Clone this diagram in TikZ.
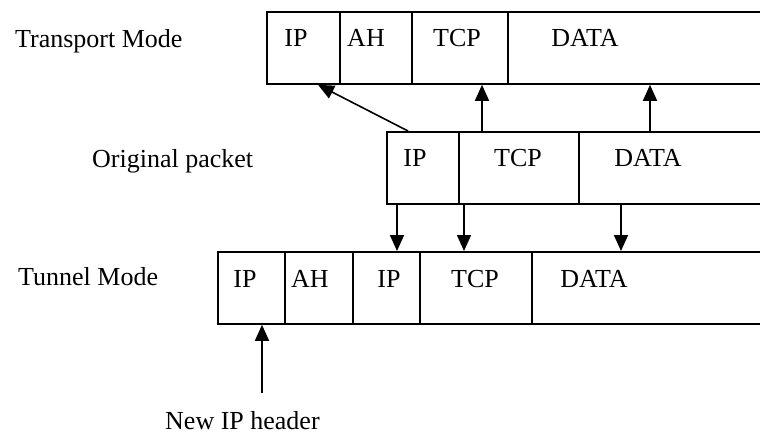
\documentclass[tikz,border=0pt]{standalone}
\usepackage{fontspec}
\setmainfont{Liberation Serif}
\usetikzlibrary{arrows.meta, positioning}

\begin{document}
\begin{tikzpicture}[
    x=1pt, y=-1pt,
    fieldbox/.style={rectangle, draw=black, line width=1.8pt, minimum height=72pt, inner sep=0pt, anchor=north west},
    fieldtext/.style={anchor=base, inner sep=0pt, font=\fontsize{26}{30}\selectfont},
    rowlabel/.style={anchor=base west, inner sep=0pt, font=\fontsize{26}{30}\selectfont},
    mapedge/.style={-{Triangle[length=16pt, width=14pt]}, line width=1.6pt}
  ]

  \path[use as bounding box, clip] (0,0) rectangle (760,434);

  % Row labels
  \node[rowlabel] (transport) at (15,47) {Transport Mode};
  \node[rowlabel] (original) at (92,167) {Original packet};
  \node[rowlabel] (tunnel) at (18,285) {Tunnel Mode};
  \node[rowlabel] (newhdr) at (165,429) {New IP header};

  % Transport mode packet
  \node[fieldbox, minimum width=73pt] (tip) at (266,11) {};
  \node[fieldbox, minimum width=72pt] (tah) at (339,11) {};
  \node[fieldbox, minimum width=96pt] (ttcp) at (411,11) {};
  \node[fieldbox, minimum width=273pt] (tdata) at (507,11) {};
  \node[fieldtext] (tiptxt) at (296,46) {IP};
  \node[fieldtext] (tahtxt) at (366,46) {AH};
  \node[fieldtext] (ttcptxt) at (457,46) {TCP};
  \node[fieldtext] (tdatatxt) at (585,46) {DATA};

  % Original packet
  \node[fieldbox, minimum width=72pt] (oip) at (386,131) {};
  \node[fieldbox, minimum width=120pt] (otcp) at (458,131) {};
  \node[fieldbox, minimum width=202pt] (odata) at (578,131) {};
  \node[fieldtext] (oiptxt) at (415,166) {IP};
  \node[fieldtext] (otcptxt) at (518,166) {TCP};
  \node[fieldtext] (odatatxt) at (648,166) {DATA};

  % Tunnel mode packet
  \node[fieldbox, minimum width=67pt] (nip) at (217,251) {};
  \node[fieldbox, minimum width=68pt] (nah) at (284,251) {};
  \node[fieldbox, minimum width=67pt] (nip2) at (352,251) {};
  \node[fieldbox, minimum width=112pt] (ntcp) at (419,251) {};
  \node[fieldbox, minimum width=249pt] (ndata) at (531,251) {};
  \node[fieldtext] (niptxt) at (245,287) {IP};
  \node[fieldtext] (nahtxt) at (310,287) {AH};
  \node[fieldtext] (nip2txt) at (389,287) {IP};
  \node[fieldtext] (ntcptxt) at (475,287) {TCP};
  \node[fieldtext] (ndatatxt) at (594,287) {DATA};

  % Original -> transport
  \draw[mapedge] ([xshift=22pt]oip.north west) -- ([xshift=52pt]tip.south west);
  \draw[mapedge] ([xshift=24pt]otcp.north west) -- ([xshift=71pt]ttcp.south west);
  \draw[mapedge] ([xshift=72pt]odata.north west) -- ([xshift=143pt]tdata.south west);

  % Original -> tunnel
  \draw[mapedge] ([xshift=11pt]oip.south west) -- ([xshift=45pt]nip2.north west);
  \draw[mapedge] ([xshift=6pt]otcp.south west) -- ([xshift=45pt]ntcp.north west);
  \draw[mapedge] ([xshift=43pt]odata.south west) -- ([xshift=90pt]ndata.north west);

  % New header
  \coordinate (hdrtop) at (262,393);
  \draw[mapedge] (hdrtop) -- (hdrtop |- nip.south);

\end{tikzpicture}
\end{document}
